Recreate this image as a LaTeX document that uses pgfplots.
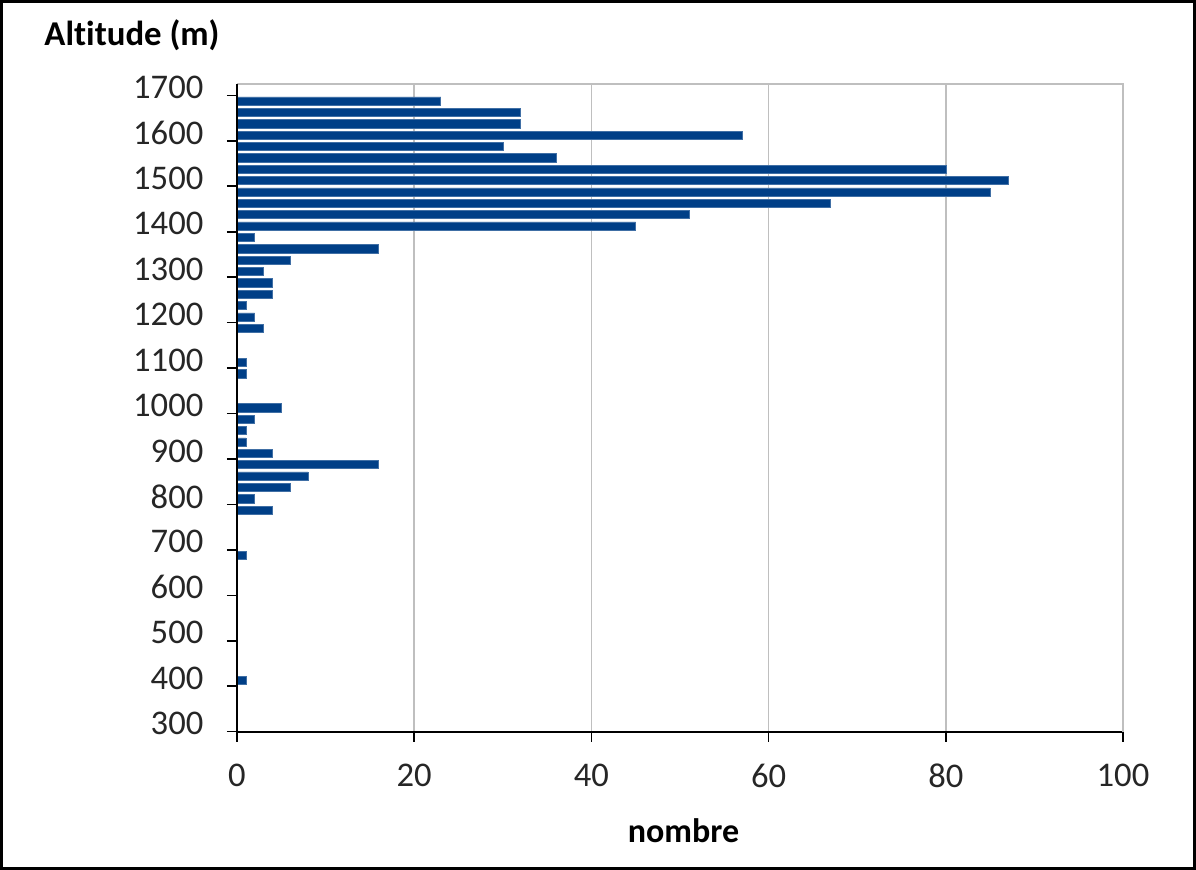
\documentclass[border=0pt]{standalone}
\usepackage{pgfplots}
\pgfplotsset{compat=1.18}
\usepackage{pgfplotstable}
\usepackage{fontspec}
\setmainfont{Carlito}[Ligatures=NoCommon]
\definecolor{barblue}{RGB}{0,63,135}
\definecolor{gridgray}{RGB}{191,191,191}
\pgfplotstableread{
n alt
23 1687.5
32 1662.5
32 1637.5
57 1612.5
30 1587.5
36 1562.5
80 1537.5
87 1512.5
85 1487.5
67 1462.5
51 1437.5
45 1412.5
2 1387.5
16 1362.5
6 1337.5
3 1312.5
4 1287.5
4 1262.5
1 1237.5
2 1212.5
3 1187.5
1 1112.5
1 1087.5
5 1012.5
2 987.5
1 962.5
1 937.5
4 912.5
16 887.5
8 862.5
6 837.5
2 812.5
4 787.5
1 687.5
1 412.5
}\datatable
\begin{document}
\begin{tikzpicture}[x=1pt,y=1pt]
\draw[line width=1.7pt] (0.85,0.85) rectangle (597.15,434.15);
\begin{axis}[at={(118.5pt,69.15pt)}, anchor=south west, scale only axis,
  width=443pt, height=323.85pt,
  xmin=0, xmax=100, ymin=300, ymax=1725,
  xtick={0,20,...,100}, ytick={300,400,...,1700},
  xbar, bar width=18,
  axis lines*=left,
  axis line style={black, line width=1pt},
  tick align=outside, major tick length=5pt,
  tick style={black, line width=0.8pt},
  xmajorgrids, grid style={gridgray, line width=0.8pt},
  /pgf/number format/assume math mode=true,
  /pgf/number format/1000 sep={},
  tick label style={font=\fontsize{17.3}{20}\selectfont, text=black!85},
  xticklabel style={yshift=-7.8pt},
  yticklabel style={xshift=-8.3pt, yshift=4pt},
  clip=false,
]
\addplot[fill=barblue, draw=barblue!75!white, line width=0.3pt] table[x=n, y=alt] {\datatable};
\draw[gridgray, line width=1pt] (rel axis cs:0,1) -- (rel axis cs:1,1) -- (rel axis cs:1,0);
\draw[black, line width=1pt] (rel axis cs:0,0) -- (rel axis cs:0,1);
\end{axis}
\node[font=\fontsize{17.4}{20}\selectfont\bfseries] at (66,417.25) {Altitude (m)};
\node[font=\fontsize{17}{20}\selectfont\bfseries] at (341.75,19.8) {nombre};
\end{tikzpicture}
\end{document}
